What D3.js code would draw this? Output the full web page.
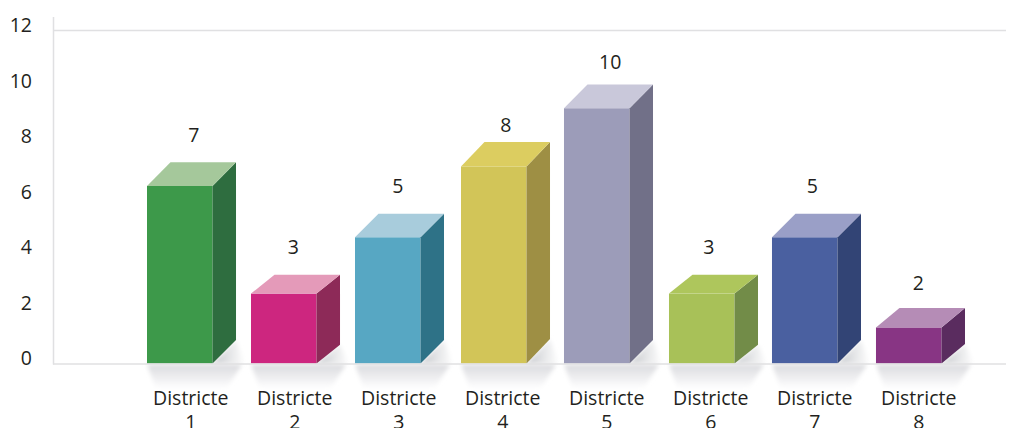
<!DOCTYPE html>
<html><head><meta charset="utf-8">
<script src="https://cdnjs.cloudflare.com/ajax/libs/d3/7.8.5/d3.min.js"></script>
<style>html,body{margin:0;padding:0;background:#fff;overflow:hidden}svg{display:block}
text{font-family:"Open Sans",Lato,sans-serif;fill:#231f20}</style></head><body>
<script>
const categories=["Districte 1","Districte 2","Districte 3","Districte 4","Districte 5","Districte 6","Districte 7","Districte 8"];
const labelValues=[7,3,5,8,10,3,5,2];
const frontValues=[6.4,2.52,4.55,7.1,9.2,2.52,4.55,1.3];
const backValues=[7.25,3.2,5.4,7.98,10.05,3.2,5.4,2];
const frontColors=["#3d994a","#cd267f","#57a7c3","#d2c558","#9c9cb9","#a8c158","#4a60a0","#883584"];
const sideColors=["#2e6d3f","#8d2a58","#2e7287","#9e8f44","#717088","#728c48","#324475","#5a2c5f"];
const topColors=["#a5c89b","#e49ab9","#a8ccdc","#dccd60","#c9c8da","#aec65c","#9a9fc7","#b58cb6"];
const yTicks=[0,2,4,6,8,10,12];

const W=1020,H=428;
const svg=d3.select("body").append("svg").attr("width",W).attr("height",H);
const y=d3.scaleLinear().domain([0,12]).range([363.5,30.5]);
const x=d3.scaleBand().domain(categories).range([147,940.5]).paddingInner(0.37).paddingOuter(0);
const bw=x.bandwidth(), dx=23.5;
const barNudge=[0,0,0,2,1,2,1,1];
const xb=(d,i)=>x(d)+barNudge[i];

const defs=svg.append("defs");
const g1=defs.append("linearGradient").attr("id","floor").attr("x1",0).attr("y1",0).attr("x2",0).attr("y2",1);
g1.append("stop").attr("offset",0).attr("stop-color","#dadbde");
g1.append("stop").attr("offset",0.6).attr("stop-color","#f0f0f2");
g1.append("stop").attr("offset",1).attr("stop-color","#ffffff");
const g2=defs.append("linearGradient").attr("id","wall").attr("x1",0).attr("y1",0).attr("x2",1).attr("y2",0);
g2.append("stop").attr("offset",0).attr("stop-color","#c6c8cc");
g2.append("stop").attr("offset",1).attr("stop-color","#ffffff");
defs.append("filter").attr("id","soft").attr("x","-20%").attr("y","-20%").attr("width","140%").attr("height","140%")
  .append("feGaussianBlur").attr("stdDeviation",2);

// axes
const axisColor="#e0e0e2";
svg.append("line").attr("x1",53.5).attr("x2",53.5).attr("y1",17).attr("y2",364.5).attr("stroke",axisColor).attr("stroke-width",1.5);
svg.append("line").attr("x1",53).attr("x2",1006).attr("y1",y(12)).attr("y2",y(12)).attr("stroke",axisColor).attr("stroke-width",1.5);

const yAxis=d3.axisLeft(y).tickValues(yTicks).tickSize(0).tickPadding(0);
const ya=svg.append("g").attr("transform","translate(32,-5.5)").call(yAxis);
ya.select(".domain").remove();
ya.selectAll("text").style("font-size","19.5px").attr("dy","0.35em").style("font-family",'"Open Sans",sans-serif').style("fill","#231f20");

const bars=svg.append("g").selectAll("g").data(categories).join("g");
bars.append("path").attr("fill","url(#wall)").attr("filter","url(#soft)")
  .attr("d",(d,i)=>{const X=xb(d,i)+bw,b=y(0);const up=(y(frontValues[i])-y(backValues[i]));return `M${X},${b}L${X+dx},${b-up}L${X+dx+9},${b}Z`;});
bars.append("path").attr("fill","url(#floor)").attr("filter","url(#soft)")
  .attr("d",(d,i)=>{const X=xb(d,i),b=y(0)+1;return `M${X},${b}L${X+bw+dx+6},${b}L${X+bw+14},${b+24}L${X+9},${b+24}Z`;});
svg.append("line").attr("x1",53).attr("x2",1006).attr("y1",y(0)+.5).attr("y2",y(0)+.5).attr("stroke",axisColor).attr("stroke-width",1.5);
bars.append("rect").attr("x",(d,i)=>xb(d,i)).attr("y",(d,i)=>y(frontValues[i])).attr("width",bw)
  .attr("height",(d,i)=>y(0)-y(frontValues[i])).attr("fill",(d,i)=>frontColors[i]);
bars.append("path").attr("fill",(d,i)=>sideColors[i]).attr("d",(d,i)=>{
  const X=xb(d,i)+bw,t=y(frontValues[i]),k=y(backValues[i]),b=y(0),u=t-k;
  return `M${X},${t}L${X+dx},${k}L${X+dx},${b-u}L${X},${b}Z`;});
bars.append("path").attr("fill",(d,i)=>topColors[i]).attr("d",(d,i)=>{
  const X=xb(d,i),t=y(frontValues[i]),k=y(backValues[i]);
  return `M${X},${t}L${X+dx},${k}L${X+bw+dx},${k}L${X+bw},${t}Z`;});

// value labels
const labelOffsets=[14,9.5,10,14,14.5,9,8.5,10.5];
const labelLift=[20,21,21,10,16,21,21,18];
svg.append("g").selectAll("text").data(categories).join("text")
  .attr("x",(d,i)=>x(d)+bw/2+labelOffsets[i])
  .attr("y",(d,i)=>y(backValues[i])-labelLift[i])
  .attr("text-anchor","middle").style("font-size","19.5px").text((d,i)=>labelValues[i]);

// category labels (two lines)
const cat=svg.append("g").selectAll("text").data(categories).join("text")
  .attr("text-anchor","middle").style("font-size","19.5px");
cat.append("tspan").attr("x",d=>x(d)+bw/2+11).attr("y",405).text(d=>d.split(" ")[0]);
cat.append("tspan").attr("x",d=>x(d)+bw/2+11).attr("y",429).text(d=>d.split(" ")[1]);
</script></body></html>
